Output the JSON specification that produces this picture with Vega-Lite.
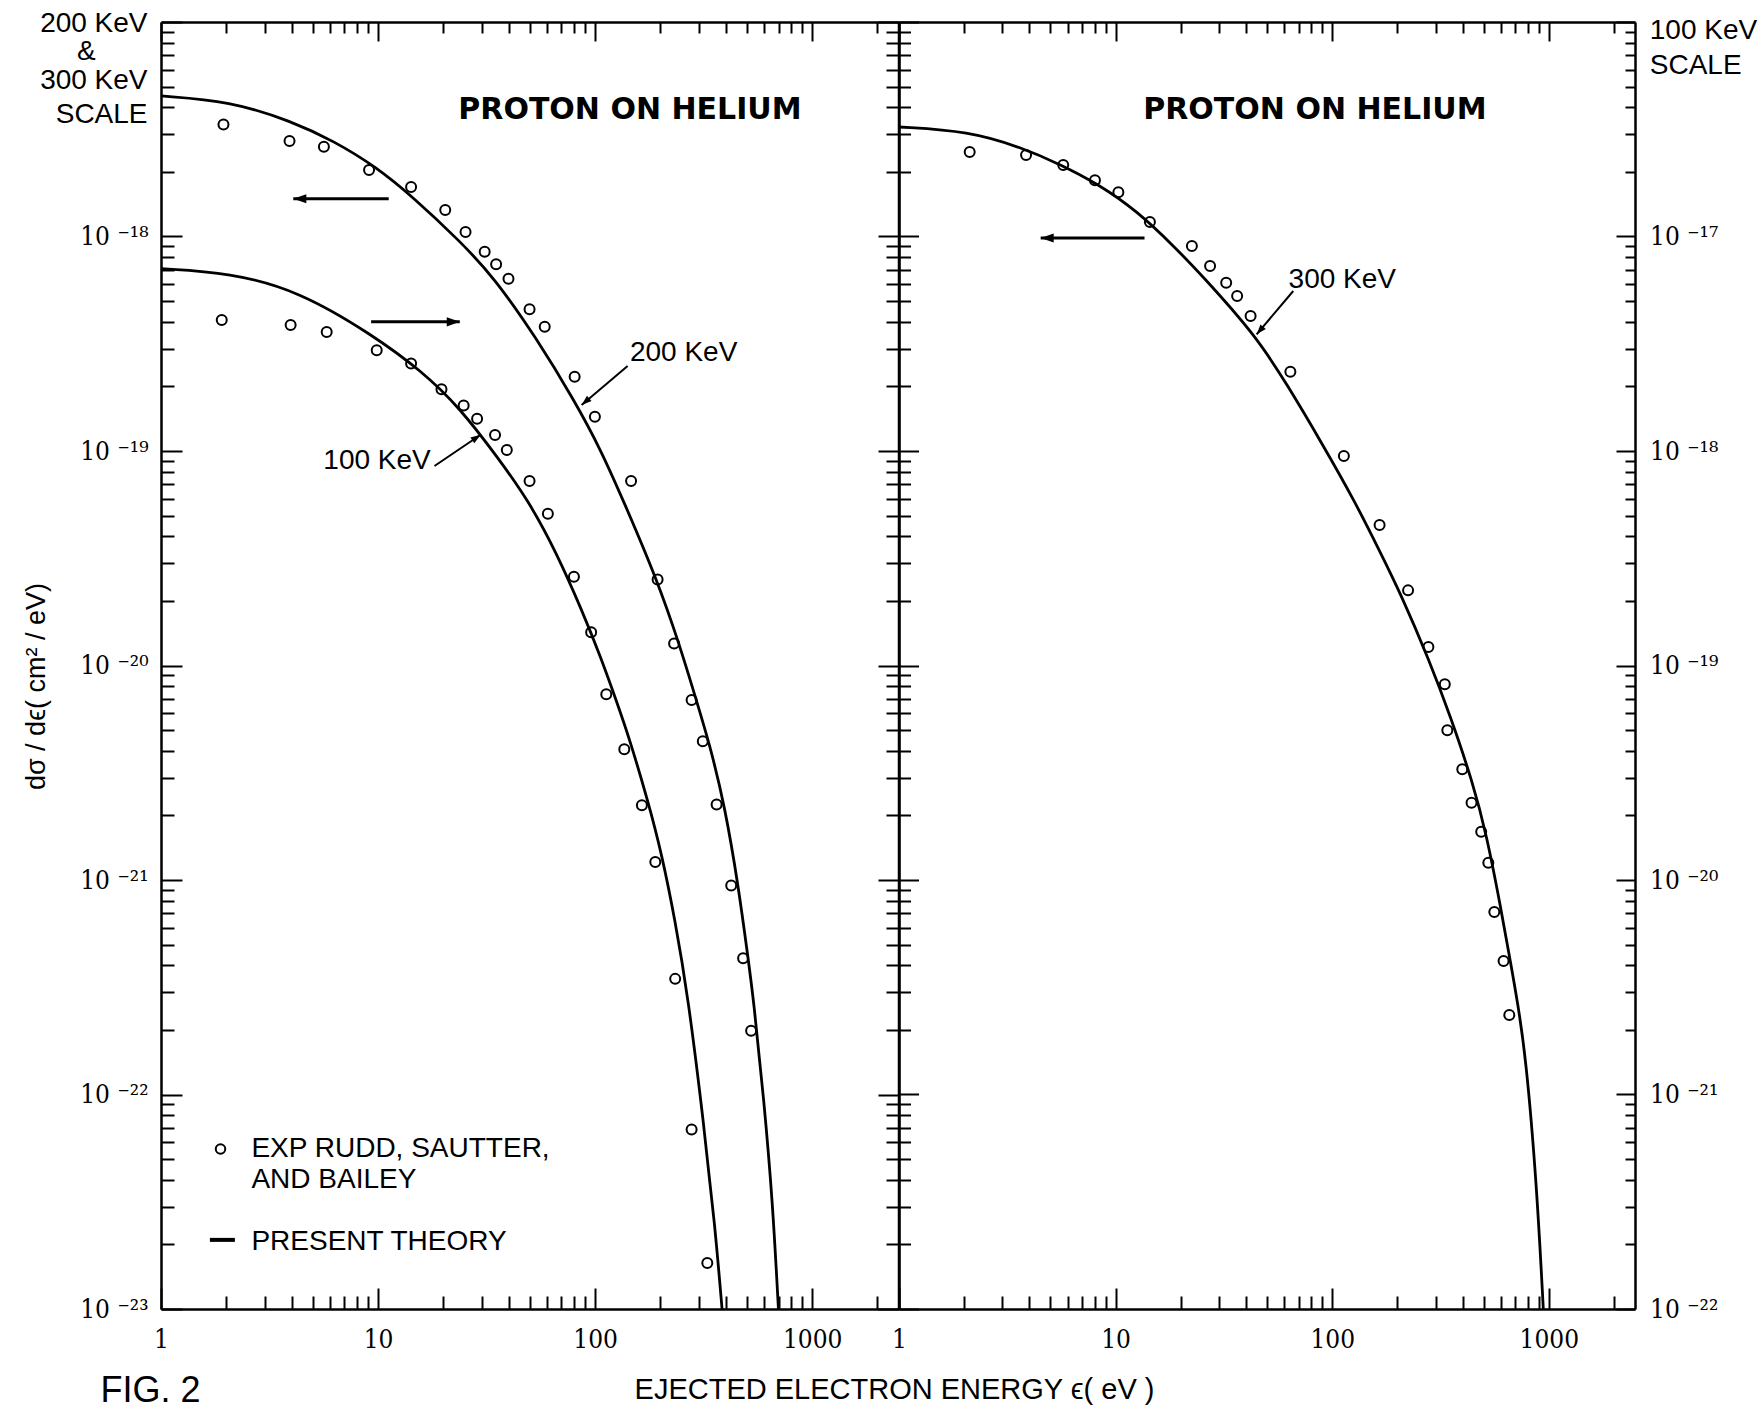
{
"$schema": "https://vega.github.io/schema/vega-lite/v6.json",
"background": "white",
"padding": {"left": 22, "top": 9, "right": 0, "bottom": 0},
"spacing": 0,
"bounds": "flush",
"config": {
  "view": {"stroke": null},
  "axis": {"domainColor": "black", "domainWidth": 2.5, "tickColor": "black", "tickWidth": 2, "labelColor": "black", "labelFont": "DejaVu Serif Condensed, DejaVu Serif", "labelFontSize": 26, "grid": false, "labelOverlap": false, "labelFlush": false, "labelBound": false, "titleColor": "black", "titleFont": "Liberation Sans", "titleFontWeight": "normal"}
},
"hconcat": [
 {
  "width": 737.5, "height": 1287,
  "resolve": {"scale": {"y": "independent"}, "axis": {"x": "independent", "y": "independent"}},
  "layer": [
   {
    "encoding": {
      "x": {"field": "x", "type": "quantitative", "scale": {"type": "log", "domain": [1, 2500], "nice": false},
            "axis": {"orient": "bottom", "values": [1,2,3,4,5,6,7,8,9,10,20,30,40,50,60,70,80,90,100,200,300,400,500,600,700,800,900,1000,2000],
                     "labelExpr": "abs(log(datum.value)/LN10 - round(log(datum.value)/LN10)) < 0.001 ? format(datum.value, 'd') : ''",
                     "tickSize": {"condition": {"test": "abs(log(datum.value)/LN10 - round(log(datum.value)/LN10)) < 0.001", "value": -21}, "value": -13},
                     "labelPadding": 38, "title": null}},
      "y": {"field": "y", "type": "quantitative", "scale": {"type": "log", "domain": [1e-23, 1e-17], "nice": false},
            "axis": {"orient": "left", "values": [1e-23,2e-23,3e-23,4e-23,5e-23,6e-23,7e-23,8e-23,9e-23,1e-22,2e-22,3e-22,4e-22,5e-22,6e-22,7e-22,8e-22,9e-22,1e-21,2e-21,3e-21,4e-21,5e-21,6e-21,7e-21,8e-21,9e-21,1e-20,2e-20,3e-20,4e-20,5e-20,6e-20,7e-20,8e-20,9e-20,1e-19,2e-19,3e-19,4e-19,5e-19,6e-19,7e-19,8e-19,9e-19,1e-18,2e-18,3e-18,4e-18,5e-18,6e-18,7e-18,8e-18,9e-18,1e-17],
                     "labelExpr": "(abs(log(datum.value)/LN10 - round(log(datum.value)/LN10)) < 0.001 && datum.value < 5e-18) ? '10 ' + ['⁻²³','⁻²²','⁻²¹','⁻²⁰','⁻¹⁹','⁻¹⁸','⁻¹⁷','⁻¹⁶'][round(log(datum.value)/LN10) + 23] : ''",
                     "tickSize": {"condition": {"test": "abs(log(datum.value)/LN10 - round(log(datum.value)/LN10)) < 0.001", "value": -21}, "value": -13},
                     "labelPadding": 34,
                     "title": "dσ / dϵ( cm² / eV)", "titleX": -124.5, "titleY": 664, "titleAngle": -90, "titleBaseline": "middle", "titleAlign": "center", "titleFontSize": 27}}
    },
    "layer": [
      {"data": {"values": [
        {"x":1,"y":4.52e-18},{"x":2.08,"y":4.28e-18},{"x":3.99,"y":3.45e-18},{"x":6.24,"y":2.79e-18},{"x":9.75,"y":2.12e-18},{"x":14.6,"y":1.517e-18},{"x":23.8,"y":9.53e-19},{"x":34.3,"y":6.43e-19},{"x":53.6,"y":3.37e-19},{"x":80.5,"y":1.71e-19},{"x":105.9,"y":1.02e-19},{"x":135.2,"y":5.85e-20},{"x":192.7,"y":2.52e-20},{"x":243.8,"y":1.268e-20},{"x":292.7,"y":6.89e-21},{"x":337.5,"y":4.27e-21},{"x":396.8,"y":2.19e-21},{"x":457.5,"y":9.33e-22},{"x":506.1,"y":4.37e-22},{"x":537.6,"y":2.75e-22},{"x":600.1,"y":9.33e-23},{"x":657.7,"y":3.16e-23},{"x":699.4,"y":1e-23}]},
       "mark": {"type": "line", "color": "black", "strokeWidth": 2.8, "interpolate": "basis"}},
      {"data": {"values": [
        {"x":1.94,"y":3.33e-18},{"x":3.91,"y":2.79e-18},{"x":5.63,"y":2.62e-18},{"x":9.09,"y":2.04e-18},{"x":14.2,"y":1.70e-18},{"x":20.4,"y":1.33e-18},{"x":25.3,"y":1.05e-18},{"x":31.0,"y":8.49e-19},{"x":35.0,"y":7.42e-19},{"x":39.9,"y":6.36e-19},{"x":49.9,"y":4.58e-19},{"x":58.6,"y":3.80e-19},{"x":80.5,"y":2.22e-19},{"x":99.8,"y":1.445e-19},{"x":146.5,"y":7.25e-20},{"x":194.1,"y":2.52e-20},{"x":231.2,"y":1.266e-20},{"x":278.4,"y":6.91e-21},{"x":313.5,"y":4.43e-21},{"x":363,"y":2.25e-21},{"x":423.8,"y":9.43e-22},{"x":480.8,"y":4.32e-22},{"x":523.5,"y":1.98e-22}]},
       "mark": {"type": "point", "shape": "circle", "filled": false, "stroke": "black", "strokeWidth": 2, "size": 100, "opacity": 1}},
      {"data": {"values": [{"x":1.88,"y":5.57e-23}]},
       "mark": {"type": "point", "shape": "circle", "filled": false, "stroke": "black", "strokeWidth": 2, "size": 90, "opacity": 1}},
      {"data": {"values": [{"x":1.68,"x2":2.19,"y":2.1e-23,"y2":2.1e-23}]},
       "mark": {"type": "rule", "color": "black", "strokeWidth": 4},
       "encoding": {"x2": {"field": "x2"}, "y2": {"field": "y2"}}},
      {"data": {"values": [{"label":"PROTON ON HELIUM","x":144.7,"y":3.9e-18}]},
       "mark": {"type": "text", "font": "DejaVu Sans", "fontWeight": "bold", "fontSize": 30, "align": "center", "baseline": "middle", "color": "black"},
       "encoding": {"text": {"field": "label"}}},
      {"data": {"values": [
        {"label":"200 KeV","x":144.7,"y":2.86e-19},
        {"label":"EXP  RUDD, SAUTTER,","x":2.61,"y":5.57e-23},
        {"label":"AND BAILEY","x":2.61,"y":4.0e-23},
        {"label":"PRESENT THEORY","x":2.61,"y":2.06e-23}]},
       "mark": {"type": "text", "font": "Liberation Sans", "fontSize": 28, "align": "left", "baseline": "middle", "color": "black"},
       "encoding": {"text": {"field": "label"}}},
      {"data": {"values": [
        {"label":"100 KeV","x":17.5,"y":8.98e-20},
        {"label":"200 KeV","x":0.867,"y":9.79e-18},
        {"label":"&","x":0.50,"y":7.25e-18},
        {"label":"300 KeV","x":0.867,"y":5.31e-18},
        {"label":"SCALE","x":0.867,"y":3.68e-18}]},
       "mark": {"type": "text", "font": "Liberation Sans", "fontSize": 28, "align": "right", "baseline": "middle", "color": "black"},
       "encoding": {"text": {"field": "label"}}},
      {"data": {"values": [{"label":"FIG. 2","x":0.526,"y":3.7e-24}]},
       "mark": {"type": "text", "font": "Liberation Sans", "fontSize": 36, "align": "left", "baseline": "alphabetic", "color": "black"},
       "encoding": {"text": {"field": "label"}}},
      {"data": {"values": [
        {"x":141.2,"y":2.49e-19,"x2":86.7,"y2":1.64e-19},
        {"x":18.2,"y":8.51e-20,"x2":29.7,"y2":1.19e-19}]},
       "mark": {"type": "rule", "color": "black", "strokeWidth": 2},
       "encoding": {"x2": {"field": "x2"}, "y2": {"field": "y2"}}},
      {"data": {"values": [
        {"x":4.07,"x2":11.2,"y":1.5e-18,"y2":1.5e-18},
        {"x":9.29,"x2":23.8,"y":4.0e-19,"y2":4.0e-19}]},
       "mark": {"type": "rule", "color": "black", "strokeWidth": 3},
       "encoding": {"x2": {"field": "x2"}, "y2": {"field": "y2"}}},
      {"data": {"values": [{"x":4.07,"y":1.5e-18}]},
       "mark": {"type": "point", "shape": "M0,0L-2,-0.7L-2,0.7Z", "filled": true, "color": "black", "size": 169, "angle": 180, "opacity": 1}},
      {"data": {"values": [{"x":23.8,"y":4.0e-19}]},
       "mark": {"type": "point", "shape": "M0,0L-2,-0.7L-2,0.7Z", "filled": true, "color": "black", "size": 169, "angle": 0, "opacity": 1}},
      {"data": {"values": [{"x":86.7,"y":1.64e-19}]},
       "mark": {"type": "point", "shape": "M0,0L-2,-0.7L-2,0.7Z", "filled": true, "color": "black", "size": 100, "angle": 139.7, "opacity": 1}},
      {"data": {"values": [{"x":29.7,"y":1.19e-19}]},
       "mark": {"type": "point", "shape": "M0,0L-2,-0.7L-2,0.7Z", "filled": true, "color": "black", "size": 100, "angle": 326, "opacity": 1}}
    ]
   },
   {
    "encoding": {
      "x": {"field": "x", "type": "quantitative", "scale": {"type": "log", "domain": [1, 2500], "nice": false},
            "axis": {"orient": "top", "values": [1,2,3,4,5,6,7,8,9,10,20,30,40,50,60,70,80,90,100,200,300,400,500,600,700,800,900,1000,2000], "labels": false,
                     "tickSize": {"condition": {"test": "abs(log(datum.value)/LN10 - round(log(datum.value)/LN10)) < 0.001", "value": -19}, "value": -11}, "title": null}},
      "y": {"field": "y", "type": "quantitative", "scale": {"type": "log", "domain": [1e-22, 1e-16], "nice": false},
            "axis": {"orient": "right", "values": [1e-22,2e-22,3e-22,4e-22,5e-22,6e-22,7e-22,8e-22,9e-22,1e-21,2e-21,3e-21,4e-21,5e-21,6e-21,7e-21,8e-21,9e-21,1e-20,2e-20,3e-20,4e-20,5e-20,6e-20,7e-20,8e-20,9e-20,1e-19,2e-19,3e-19,4e-19,5e-19,6e-19,7e-19,8e-19,9e-19,1e-18,2e-18,3e-18,4e-18,5e-18,6e-18,7e-18,8e-18,9e-18,1e-17,2e-17,3e-17,4e-17,5e-17,6e-17,7e-17,8e-17,9e-17,1e-16], "labels": false,
                     "tickSize": {"condition": {"test": "abs(log(datum.value)/LN10 - round(log(datum.value)/LN10)) < 0.001", "value": 20}, "value": 12}, "title": null}}
    },
    "layer": [
      {"data": {"values": [
        {"x":1,"y":7.08e-18},{"x":2.08,"y":6.78e-18},{"x":4.32,"y":5.57e-18},{"x":9.35,"y":3.50e-18},{"x":15.9,"y":2.36e-18},{"x":23.8,"y":1.59e-18},{"x":35.7,"y":9.3e-19},{"x":49.4,"y":5.85e-19},{"x":65.8,"y":3.42e-19},{"x":87.3,"y":1.795e-19},{"x":105.9,"y":1.10e-19},{"x":125.9,"y":6.76e-20},{"x":143.9,"y":4.57e-20},{"x":176.2,"y":2.29e-20},{"x":202.8,"y":1.32e-20},{"x":233.9,"y":6.46e-21},{"x":267.9,"y":2.88e-21},{"x":317,"y":7.24e-22},{"x":357.3,"y":2.40e-22},{"x":384.6,"y":1e-22}]},
       "mark": {"type": "line", "color": "black", "strokeWidth": 2.8, "interpolate": "basis"}},
      {"data": {"values": [
        {"x":1.905,"y":4.08e-18},{"x":3.956,"y":3.87e-18},{"x":5.80,"y":3.59e-18},{"x":9.86,"y":2.95e-18},{"x":14.2,"y":2.56e-18},{"x":19.6,"y":1.94e-18},{"x":24.8,"y":1.63e-18},{"x":28.6,"y":1.414e-18},{"x":34.6,"y":1.188e-18},{"x":39.2,"y":1.011e-18},{"x":49.9,"y":7.25e-19},{"x":60.6,"y":5.10e-19},{"x":79.9,"y":2.59e-19},{"x":95.9,"y":1.43e-19},{"x":112.6,"y":7.34e-20},{"x":136.3,"y":4.07e-20},{"x":164.3,"y":2.23e-20},{"x":189.4,"y":1.213e-20},{"x":233.9,"y":3.46e-21},{"x":278.4,"y":6.87e-22},{"x":328.9,"y":1.64e-22}]},
       "mark": {"type": "point", "shape": "circle", "filled": false, "stroke": "black", "strokeWidth": 2, "size": 100, "opacity": 1}}
    ]
   }
  ]
 },
 {
  "width": 736, "height": 1287,
  "resolve": {"scale": {"y": "independent"}, "axis": {"x": "independent", "y": "independent"}},
  "layer": [
   {
    "encoding": {
      "x": {"field": "x", "type": "quantitative", "scale": {"type": "log", "domain": [1, 2500], "nice": false},
            "axis": {"orient": "bottom", "values": [1,2,3,4,5,6,7,8,9,10,20,30,40,50,60,70,80,90,100,200,300,400,500,600,700,800,900,1000,2000],
                     "labelExpr": "abs(log(datum.value)/LN10 - round(log(datum.value)/LN10)) < 0.001 ? format(datum.value, 'd') : ''",
                     "tickSize": {"condition": {"test": "abs(log(datum.value)/LN10 - round(log(datum.value)/LN10)) < 0.001", "value": -21}, "value": -13},
                     "labelPadding": 38,
                     "title": "EJECTED ELECTRON ENERGY  ϵ( eV )", "titleX": -5, "titleY": 80, "titleAlign": "center", "titleBaseline": "middle", "titleFontSize": 29}},
      "y": {"field": "y", "type": "quantitative", "scale": {"type": "log", "domain": [1e-23, 1e-17], "nice": false},
            "axis": {"orient": "left", "values": [1e-23,2e-23,3e-23,4e-23,5e-23,6e-23,7e-23,8e-23,9e-23,1e-22,2e-22,3e-22,4e-22,5e-22,6e-22,7e-22,8e-22,9e-22,1e-21,2e-21,3e-21,4e-21,5e-21,6e-21,7e-21,8e-21,9e-21,1e-20,2e-20,3e-20,4e-20,5e-20,6e-20,7e-20,8e-20,9e-20,1e-19,2e-19,3e-19,4e-19,5e-19,6e-19,7e-19,8e-19,9e-19,1e-18,2e-18,3e-18,4e-18,5e-18,6e-18,7e-18,8e-18,9e-18,1e-17], "labels": false,
                     "tickSize": {"condition": {"test": "abs(log(datum.value)/LN10 - round(log(datum.value)/LN10)) < 0.001", "value": 21}, "value": 13}, "title": null}}
    },
    "layer": [
      {"data": {"values": [
        {"x":1,"y":3.24e-18},{"x":2.10,"y":3.10e-18},{"x":3.71,"y":2.59e-18},{"x":5.55,"y":2.17e-18},{"x":8.36,"y":1.75e-18},{"x":12.57,"y":1.315e-18},{"x":18.9,"y":8.86e-19},{"x":24.9,"y":6.62e-19},{"x":43.9,"y":3.50e-19},{"x":61.8,"y":2.05e-19},{"x":90.2,"y":1.075e-19},{"x":126.9,"y":5.85e-20},{"x":165.5,"y":3.42e-20},{"x":207.6,"y":2.15e-20},{"x":281.3,"y":1.05e-20},{"x":353.2,"y":5.71e-21},{"x":443.6,"y":2.89e-21},{"x":515.7,"y":1.63e-21},{"x":600.2,"y":7.43e-22},{"x":672.6,"y":3.9e-22},{"x":715.4,"y":2.73e-22},{"x":783.2,"y":1.51e-22},{"x":879.5,"y":3.8e-23},{"x":943.2,"y":1e-23}]},
       "mark": {"type": "line", "color": "black", "strokeWidth": 2.8, "interpolate": "basis"}},
      {"data": {"values": [
        {"x":2.12,"y":2.48e-18},{"x":3.86,"y":2.40e-18},{"x":5.73,"y":2.155e-18},{"x":8.03,"y":1.83e-18},{"x":10.3,"y":1.61e-18},{"x":14.4,"y":1.168e-18},{"x":22.5,"y":9.03e-19},{"x":27.3,"y":7.29e-19},{"x":32.4,"y":6.09e-19},{"x":36.4,"y":5.28e-19},{"x":42.0,"y":4.26e-19},{"x":64.1,"y":2.34e-19},{"x":113.2,"y":9.48e-20},{"x":165.5,"y":4.52e-20},{"x":224,"y":2.24e-20},{"x":278,"y":1.22e-20},{"x":331,"y":8.18e-21},{"x":340,"y":4.99e-21},{"x":398.6,"y":3.28e-21},{"x":439.8,"y":2.29e-21},{"x":487.4,"y":1.68e-21},{"x":525.7,"y":1.204e-21},{"x":560.3,"y":7.1e-22},{"x":618.3,"y":4.19e-22},{"x":657.1,"y":2.35e-22}]},
       "mark": {"type": "point", "shape": "circle", "filled": false, "stroke": "black", "strokeWidth": 2, "size": 100, "opacity": 1}},
      {"data": {"values": [{"label":"PROTON ON HELIUM","x":83.2,"y":3.9e-18}]},
       "mark": {"type": "text", "font": "DejaVu Sans", "fontWeight": "bold", "fontSize": 30, "align": "center", "baseline": "middle", "color": "black"},
       "encoding": {"text": {"field": "label"}}},
      {"data": {"values": [{"label":"300 KeV","x":62.9,"y":6.3e-19}]},
       "mark": {"type": "text", "font": "Liberation Sans", "fontSize": 28, "align": "left", "baseline": "middle", "color": "black"},
       "encoding": {"text": {"field": "label"}}},
      {"data": {"values": [{"x":66.1,"y":5.57e-19,"x2":44.8,"y2":3.5e-19}]},
       "mark": {"type": "rule", "color": "black", "strokeWidth": 2},
       "encoding": {"x2": {"field": "x2"}, "y2": {"field": "y2"}}},
      {"data": {"values": [{"x":4.51,"x2":13.6,"y":9.84e-19,"y2":9.84e-19}]},
       "mark": {"type": "rule", "color": "black", "strokeWidth": 3},
       "encoding": {"x2": {"field": "x2"}, "y2": {"field": "y2"}}},
      {"data": {"values": [{"x":4.51,"y":9.84e-19}]},
       "mark": {"type": "point", "shape": "M0,0L-2,-0.7L-2,0.7Z", "filled": true, "color": "black", "size": 169, "angle": 180, "opacity": 1}},
      {"data": {"values": [{"x":44.8,"y":3.5e-19}]},
       "mark": {"type": "point", "shape": "M0,0L-2,-0.7L-2,0.7Z", "filled": true, "color": "black", "size": 100, "angle": 130.3, "opacity": 1}}
    ]
   },
   {
    "data": {"values": [{"label":"100 KeV","x":2926,"y":9.08e-17},{"label":"SCALE","x":2926,"y":6.23e-17}]},
    "mark": {"type": "text", "font": "Liberation Sans", "fontSize": 28, "align": "left", "baseline": "middle", "color": "black"},
    "encoding": {
      "x": {"field": "x", "type": "quantitative", "scale": {"type": "log", "domain": [1, 2500], "nice": false},
            "axis": {"orient": "top", "values": [1,2,3,4,5,6,7,8,9,10,20,30,40,50,60,70,80,90,100,200,300,400,500,600,700,800,900,1000,2000], "labels": false,
                     "tickSize": {"condition": {"test": "abs(log(datum.value)/LN10 - round(log(datum.value)/LN10)) < 0.001", "value": -19}, "value": -11}, "title": null}},
      "y": {"field": "y", "type": "quantitative", "scale": {"type": "log", "domain": [1e-22, 1e-16], "nice": false},
            "axis": {"orient": "right", "values": [1e-22,2e-22,3e-22,4e-22,5e-22,6e-22,7e-22,8e-22,9e-22,1e-21,2e-21,3e-21,4e-21,5e-21,6e-21,7e-21,8e-21,9e-21,1e-20,2e-20,3e-20,4e-20,5e-20,6e-20,7e-20,8e-20,9e-20,1e-19,2e-19,3e-19,4e-19,5e-19,6e-19,7e-19,8e-19,9e-19,1e-18,2e-18,3e-18,4e-18,5e-18,6e-18,7e-18,8e-18,9e-18,1e-17,2e-17,3e-17,4e-17,5e-17,6e-17,7e-17,8e-17,9e-17,1e-16],
                     "labelExpr": "(abs(log(datum.value)/LN10 - round(log(datum.value)/LN10)) < 0.001 && datum.value < 5e-17) ? '10 ' + ['⁻²³','⁻²²','⁻²¹','⁻²⁰','⁻¹⁹','⁻¹⁸','⁻¹⁷','⁻¹⁶'][round(log(datum.value)/LN10) + 23] : ''",
                     "tickSize": {"condition": {"test": "abs(log(datum.value)/LN10 - round(log(datum.value)/LN10)) < 0.001", "value": -19}, "value": -10},
                     "labelPadding": 33.5, "title": null}},
      "text": {"field": "label"}
    }
   }
  ]
 }
]
}
